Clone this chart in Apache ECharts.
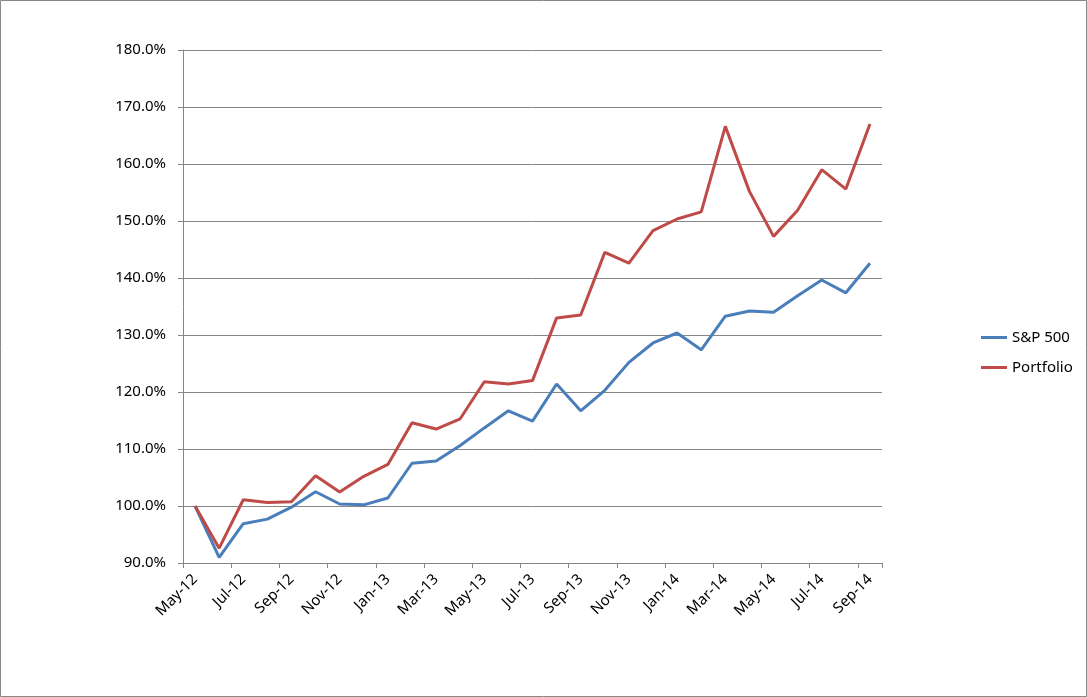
<!DOCTYPE html>
<html>
<head>
<meta charset="utf-8">
<script src="https://cdn.jsdelivr.net/npm/echarts@6/dist/echarts.min.js"></script>
<style>
html,body{margin:0;padding:0;background:#fff;}
#chart{width:1087px;height:697px;}
</style>
</head>
<body>
<div id="chart"></div>
<script>
var categories = ["May-12","Jun-12","Jul-12","Aug-12","Sep-12","Oct-12","Nov-12","Dec-12",
  "Jan-13","Feb-13","Mar-13","Apr-13","May-13","Jun-13","Jul-13","Aug-13","Sep-13","Oct-13","Nov-13","Dec-13",
  "Jan-14","Feb-14","Mar-14","Apr-14","May-14","Jun-14","Jul-14","Aug-14","Sep-14"];
var sp500 = [100.0, 91.0, 96.9, 97.7, 99.8, 102.5, 100.35, 100.2, 101.4, 107.5, 107.9, 110.6, 113.7, 116.7, 114.9,
  121.4, 116.7, 120.3, 125.2, 128.6, 130.35, 127.4, 133.3, 134.2, 134.0, 136.9, 139.65, 137.4, 142.6];
var portfolio = [100.0, 92.6, 101.1, 100.6, 100.75, 105.3, 102.45, 105.2, 107.3, 114.6, 113.5, 115.3, 121.8, 121.4, 122.0,
  133.0, 133.5, 144.5, 142.6, 148.3, 150.35, 151.6, 166.6, 155.2, 147.3, 151.9, 159.0, 155.6, 167.0];
var seriesNames = ["S&P 500", "Portfolio"];

var chart = echarts.init(document.getElementById('chart'));
var font = "'Noto Sans', 'Open Sans', sans-serif";
chart.setOption({
  animation: false,
  backgroundColor: '#fff',
  textStyle: {fontFamily: font},
  graphic: [{type:'rect', shape:{x:0.5,y:0.5,width:1086,height:696}, style:{fill:'none', stroke:'#888', lineWidth:1}}],
  grid: {left: 183, right: 205, top: 50, bottom: 134, containLabel: false},
  legend: {
    orient: 'vertical', left: 976, top: 325,
    icon: 'rect', itemWidth: 26, itemHeight: 3, itemGap: 15,
    textStyle: {fontSize: 15, color: '#000', fontFamily: font},
    data: seriesNames
  },
  xAxis: {
    type: 'category', data: categories, boundaryGap: true,
    axisLine: {lineStyle: {color: '#868686', width: 1}},
    axisTick: {show: true, interval: 1, length: 5, lineStyle: {color: '#868686'}},
    axisLabel: {interval: 1, rotate: 45, fontSize: 15, color: '#000', margin: 14, fontFamily: font}
  },
  yAxis: {
    type: 'value', min: 90, max: 180, interval: 10,
    axisLine: {show: true, lineStyle: {color: '#868686', width: 1}},
    axisTick: {show: true, length: 5, lineStyle: {color: '#868686'}},
    splitLine: {lineStyle: {color: '#868686', width: 1}},
    axisLabel: {fontSize: 15, color: '#000', margin: 17, fontFamily: font,
      formatter: function(v){ return v.toFixed(1) + '%'; }}
  },
  series: [
    {name: seriesNames[0], type: 'line', data: sp500, symbol: 'none', lineStyle: {color: '#4A7EBB', width: 3}, itemStyle: {color: '#4A7EBB'}},
    {name: seriesNames[1], type: 'line', data: portfolio, symbol: 'none', lineStyle: {color: '#BE4B48', width: 3}, itemStyle: {color: '#BE4B48'}}
  ]
});
</script>
</body>
</html>
